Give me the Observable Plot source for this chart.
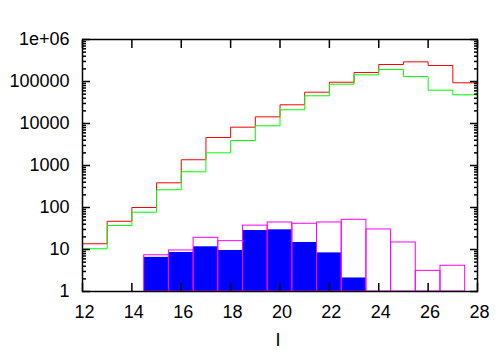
<!DOCTYPE html>
<html><head><meta charset="utf-8">
<script src="https://cdn.jsdelivr.net/npm/d3@7"></script>
<script src="https://cdn.jsdelivr.net/npm/@observablehq/plot@0.6"></script>
<style>body{margin:0;background:#fff}#chart{width:500px;height:350px}</style>
</head><body><div id="chart"></div>
<script>
// Data
const mainBinStarts = [12,13,14,15,16,17,18,19,20,21,22,23,24,25,26,27];
const redCounts   = [13.7,47,100,387,1370,4640,8170,14400,27900,55600,96200,164000,254000,294000,240000,93100];
const greenCounts = [10.4,37.3,77.3,264,708,2005,3940,8810,21200,45700,86300,144000,193000,131000,62100,48200];
const subBinStarts  = [14.5,15.5,16.5,17.5,18.5,19.5,20.5,21.5,22.5,23.5,24.5,25.5,26.5];
const magentaCounts = [7.3,9.5,19,15.8,37,44,41,44,51,30,14.7,3.1,4.1];
const blueBinStarts = [14.5,15.5,16.5,17.5,18.5,19.5,20.5,21.5,22.5];
const blueCounts    = [6.5,8.5,11.6,9.5,28.3,29.4,14.7,8.3,2.1];
const binWidth = 1;
const xTicks = [12,14,16,18,20,22,24,26,28];
const yTicks = [1,10,100,1000,10000,100000,1000000];
const yTickLabels = ["1","10","100","1000","10000","100000","1e+06"];
const yMinorMultipliers = [2,3,4,5,6,7,8,9];
const xLabel = "I";

const bars = (starts, counts) => starts.map((x, i) => ({x1: x, x2: x + binWidth, y: counts[i]}));
const steps = (starts, counts) => [...starts.map((x, i) => ({x, y: counts[i]})), {x: starts[starts.length - 1] + binWidth, y: counts[counts.length - 1]}];
const yMinor = yTicks.slice(0, -1).flatMap(d => yMinorMultipliers.map(m => d * m));

const font = "'Liberation Sans', Arial, Helvetica, sans-serif";
const chart = Plot.plot({
  width: 500, height: 350,
  marginLeft: 82, marginRight: 23, marginTop: 39, marginBottom: 59,
  style: {fontFamily: font, fontSize: "18px", background: "white", color: "black", overflow: "visible"},
  x: {domain: [12, 28]},
  y: {type: "log", domain: [1, 1e6]},
  marks: [
    Plot.rect(bars(blueBinStarts, blueCounts), {x1: "x1", x2: "x2", y1: 1, y2: "y", fill: "#0000ff"}),
    Plot.rect(bars(subBinStarts, magentaCounts), {x1: "x1", x2: "x2", y1: 1, y2: "y", fill: "none", stroke: "#ff00ff", strokeWidth: 1}),
    Plot.line(steps(mainBinStarts, redCounts), {x: "x", y: "y", curve: "step-after", stroke: "#ff0000", strokeWidth: 1}),
    Plot.line(steps(mainBinStarts, greenCounts), {x: "x", y: "y", curve: "step-after", stroke: "#00ff00", strokeWidth: 1}),
    // inward ticks
    Plot.axisY({anchor: "left", ticks: yTicks, tickSize: 8, dx: 8, fill: "none", label: null, strokeWidth: 1.5}),
    Plot.axisY({anchor: "left", ticks: yMinor, tickSize: 4, dx: 4, fill: "none", label: null, strokeWidth: 1.5}),
    Plot.axisY({anchor: "right", ticks: yTicks, tickSize: 8, dx: -8, fill: "none", label: null, strokeWidth: 1.5}),
    Plot.axisY({anchor: "right", ticks: yMinor, tickSize: 4, dx: -4, fill: "none", label: null, strokeWidth: 1.5}),
    Plot.axisX({anchor: "bottom", ticks: xTicks, tickSize: 8, dy: -8, fill: "none", label: null, strokeWidth: 1.5}),
    Plot.axisX({anchor: "top", ticks: xTicks, tickSize: 8, dy: 8, fill: "none", label: null, strokeWidth: 1.5}),
    // tick labels
    Plot.text(yTicks, {y: d => d, frameAnchor: "left", textAnchor: "end", lineAnchor: "middle", dx: -13,
      text: (d, i) => yTickLabels[i], fontSize: 18}),
    Plot.text(xTicks, {x: d => d, frameAnchor: "bottom", textAnchor: "middle", lineAnchor: "top", dx: 2, dy: 14,
      text: d => String(d), fontSize: 18}),
    Plot.frame({stroke: "black", strokeWidth: 1.5}),
    Plot.text([xLabel], {frameAnchor: "bottom", lineAnchor: "middle", dx: -2, dy: 49, text: d => d, fontSize: 18})
  ]
});
document.getElementById("chart").appendChild(chart);
</script>
</body></html>
